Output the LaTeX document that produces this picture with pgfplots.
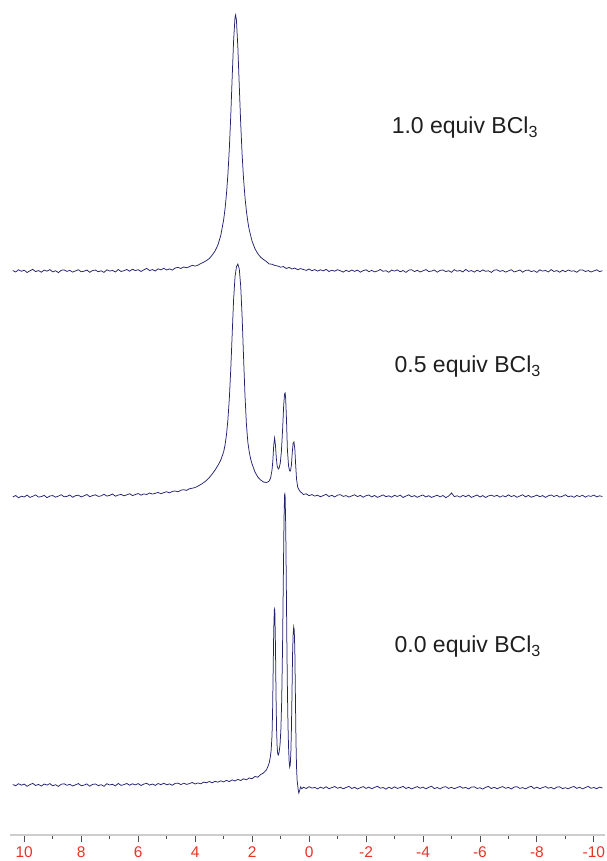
\documentclass[border=0pt]{standalone}
\usepackage{pgfplots}
\pgfplotsset{compat=1.18}
\usepackage{fontspec}
\setmainfont{Liberation Sans}
\definecolor{spec}{RGB}{34,34,112}
\definecolor{ticklab}{RGB}{232,52,36}
\definecolor{axline}{RGB}{205,205,205}
\definecolor{tickc}{RGB}{80,80,80}
\begin{document}
\begin{tikzpicture}
\useasboundingbox (-10pt,-26pt) rectangle (596pt,835pt);
\begin{axis}[
  scale only axis, width=595pt, height=835pt,
  x dir=reverse, xmin=-10.39, xmax=10.5, ymin=0, ymax=835,
  axis x line*=bottom, axis y line=none,
  x axis line style={-, draw=axline, line width=1.6pt},
  xtick={-10,-8,-6,-4,-2,0,2,4,6,8,10},
  xticklabels={-10,-8,-6,-4,-2,0,2,4,6,8,10},
  minor xtick={-9,-7,-5,-3,-1,1,3,5,7,9},
  xtick align=outside,
  major tick length=7pt, minor tick length=3.5pt,
  every tick/.style={draw=tickc, line width=0.9pt},
  tick label style={text=ticklab, font=\fontsize{15.5}{16}\selectfont, yshift=-1pt},
  clip=false,
]
% 1.0 equiv
\addplot[spec, line width=0.75pt, mark=none] coordinates {
(10.4,564.5)(10.3,563)(10.2,565.2)(10.1,563.7)(10.0,564.8)(9.9,562.5)(9.8,564.2)(9.7,565.6)(9.6,563.4)(9.5,564.4)
(9.4,562.8)(9.3,564.9)(9.2,563.8)(9.1,565.4)(9.0,563.1)(8.9,564.3)(8.8,562.4)(8.7,564.7)(8.6,565.1)(8.5,563.6)
(8.4,564.6)(8.3,562.9)(8.2,564.1)(8.1,565.3)(8.0,563.2)(7.9,563.8)(7.8,565)(7.7,562.7)(7.6,564.5)(7.5,564.9)
(7.4,563.3)(7.3,564.2)(7.2,562.6)(7.1,565.2)(7.0,563.9)(6.9,564.6)(6.8,563)(6.7,565.5)(6.6,563.5)(6.5,564.3)
(6.4,565.5)(6.3,563.8)(6.2,565.7)(6.1,564.4)(6.0,565.3)(5.9,563.5)(5.8,565.2)(5.7,566.6)(5.6,564.4)(5.5,565.4)
(5.4,564)(5.3,566.2)(5.2,565.1)(5.1,566.7)(5.0,565)(4.9,566.1)(4.8,564.9)(4.7,567)(4.6,567.6)(4.5,566.5)
(4.4,568)(4.3,567.2)(4.2,568.3)(4.1,569.7)(4.0,568.9)(3.9,569.8)(3.8,571.5)(3.7,572.8)(3.6,574.5)(3.5,576.5)
(3.4,580)(3.3,584)(3.2,590)(3.1,599.5)(3.0,615)(2.95,626)(2.9,641)(2.85,660.5)(2.8,686)(2.75,718.7)
(2.7,757)(2.65,794)(2.6,817.7)(2.58,820)(2.55,815)(2.5,787.6)(2.45,749)(2.4,711.6)(2.35,680.4)(2.3,656.2)
(2.25,637.8)(2.2,623.9)(2.15,613.3)(2.1,605.1)(2.0,593.7)(1.9,586.3)(1.8,581.3)(1.7,577.8)(1.6,575.5)(1.5,573.5)
(1.4,571)(1.3,570.8)(1.2,569.5)(1.1,569)(1.0,567.8)(0.9,568.4)(0.8,566.5)(0.7,567.6)(0.6,566)(0.5,566.9)
(0.4,565.3)(0.3,566.4)(0.2,565.5)(0.1,564.6)(0.0,566)(-0.1,564.3)(-0.2,565.4)(-0.3,563.9)(-0.4,565.2)(-0.5,564.1)
(-0.6,565.6)(-0.7,563.5)(-0.8,564.8)(-0.9,563.8)(-1.0,565.3)(-1.1,564.2)(-1.2,562.9)(-1.3,564.7)(-1.4,563.4)(-1.5,565)
(-1.6,563.6)(-1.7,564.9)(-1.8,562.8)(-1.9,564.4)(-2.0,565.2)(-2.1,563.3)(-2.2,564.6)(-2.3,563.1)(-2.4,564)(-2.5,565.5)
(-2.6,563.7)(-2.7,564.3)(-2.8,562.7)(-2.9,564.9)(-3.0,563.9)(-3.1,565.1)(-3.2,563.2)(-3.3,564.5)(-3.4,562.6)(-3.5,564.8)
(-3.6,565.3)(-3.7,563.4)(-3.8,564.7)(-3.9,563)(-4.0,564.2)(-4.1,565.4)(-4.2,563.5)(-4.3,563.9)(-4.4,565)(-4.5,562.8)
(-4.6,564.6)(-4.7,565)(-4.8,563.4)(-4.9,564.3)(-5.0,562.7)(-5.1,565.3)(-5.2,563.8)(-5.3,564.5)(-5.4,563)(-5.5,565.6)
(-5.6,563.6)(-5.7,564.4)(-5.8,562.9)(-5.9,564.8)(-6.0,563.3)(-6.1,565.1)(-6.2,563.7)(-6.3,564.2)(-6.4,562.6)(-6.5,564.8)
(-6.6,565.2)(-6.7,563.6)(-6.8,564.5)(-6.9,562.9)(-7.0,564.1)(-7.1,565.3)(-7.2,563.1)(-7.3,563.9)(-7.4,565)(-7.5,562.8)
(-7.6,564.6)(-7.7,564.9)(-7.8,563.4)(-7.9,564.3)(-8.0,562.6)(-8.1,565.2)(-8.2,563.9)(-8.3,564.5)(-8.4,563)(-8.5,565.4)
(-8.6,563.5)(-8.7,564.4)(-8.8,562.8)(-8.9,564.7)(-9.0,563.3)(-9.1,565)(-9.2,563.8)(-9.3,564.2)(-9.4,562.7)(-9.5,564.9)
(-9.6,565.1)(-9.7,563.5)(-9.8,564.4)(-9.9,563)(-10.0,564.1)(-10.1,565.2)(-10.2,563.4)(-10.3,564.3)
};
% 0.5 equiv
\addplot[spec, line width=0.75pt, mark=none] coordinates {
(10.4,338)(10.3,339.5)(10.2,337.2)(10.1,338.8)(10.0,338)(9.9,339.9)(9.8,337.6)(9.7,338.7)(9.6,340.1)(9.5,337.9)
(9.4,338.4)(9.3,339.6)(9.2,337.3)(9.1,339)(9.0,339.4)(8.9,337.8)(8.8,338.9)(8.7,340.3)(8.6,338.2)(8.5,338.6)
(8.4,340)(8.3,337.7)(8.2,339.3)(8.1,339.8)(8.0,338.1)(7.9,339.2)(7.8,340.5)(7.7,338.3)(7.6,339.4)(7.5,340.2)
(7.4,338.6)(7.3,339.1)(7.2,340.7)(7.1,338.9)(7.0,339.6)(6.9,341)(6.8,338.8)(6.7,339.9)(6.6,340.6)(6.5,339.2)
(6.4,340.1)(6.3,341.3)(6.2,339.4)(6.1,340.4)(6.0,341.5)(5.9,339.8)(5.8,341.1)(5.7,340.5)(5.6,342)(5.5,340.9)
(5.4,341.7)(5.3,342.6)(5.2,341.2)(5.1,342.4)(5.0,343.3)(4.9,342.1)(4.8,343.6)(4.7,344)(4.6,343.2)(4.5,344.8)
(4.4,345.3)(4.3,344.6)(4.2,346.2)(4.1,346.8)(4.0,347.5)(3.9,348.9)(3.8,350.5)(3.7,352.4)(3.6,354.6)(3.5,357.5)
(3.4,361)(3.3,365)(3.2,369.5)(3.1,375)(3.0,383)(2.95,390)(2.9,400)(2.85,415)(2.8,436)(2.75,465)
(2.7,500)(2.65,535)(2.6,558)(2.55,568)(2.5,571)(2.45,566)(2.4,549)(2.35,518)(2.3,478)(2.25,440)
(2.2,411)(2.15,393)(2.1,383)(2.05,376)(2.0,371)(1.9,363)(1.8,358)(1.7,355)(1.6,353)(1.5,352.5)
(1.45,353)(1.4,354)(1.35,357)(1.3,365)(1.27,375)(1.24,390)(1.21,397)(1.18,390)(1.15,377)(1.12,369)
(1.08,366)(1.05,367)(1.01,372)(0.97,384)(0.93,405)(0.89,430)(0.86,441)(0.84,442)(0.82,436)(0.79,413)
(0.76,385)(0.72,369)(0.68,364)(0.65,364)(0.62,370)(0.59,382)(0.56,392)(0.53,393)(0.50,386)(0.47,370)
(0.44,356)(0.40,348)(0.35,345)(0.3,343)(0.25,342)(0.2,340.5)(0.1,341.2)(0.0,339.3)(-0.1,340.4)(-0.2,338.9)
(-0.3,339.8)(-0.4,338.2)(-0.5,339.5)(-0.6,340.6)(-0.7,338.5)(-0.8,339.7)(-0.9,338)(-1.0,339.9)(-1.1,340.3)(-1.2,338.6)
(-1.3,339.4)(-1.4,337.9)(-1.5,339.1)(-1.6,340.2)(-1.7,338.4)(-1.8,339.6)(-1.9,337.7)(-2.0,339.3)(-2.1,340)(-2.2,338.1)
(-2.3,339.5)(-2.4,337.6)(-2.5,338.8)(-2.6,340.1)(-2.7,338.3)(-2.8,339.2)(-2.9,337.8)(-3.0,339.7)(-3.1,338.5)(-3.2,339.9)
(-3.3,337.5)(-3.4,338.9)(-3.5,340.2)(-3.6,338.2)(-3.7,339.4)(-3.8,337.7)(-3.9,339)(-4.0,340)(-4.1,338)(-4.2,339.3)
(-4.3,337.6)(-4.4,338.7)(-4.5,339.8)(-4.6,338.1)(-4.7,339.5)(-4.8,337.4)(-4.9,338.9)(-5.0,342)(-5.1,338.4)(-5.2,339.2)
(-5.3,337.8)(-5.4,339.6)(-5.5,338.3)(-5.6,339.9)(-5.7,337.6)(-5.8,338.8)(-5.9,340)(-6.0,338)(-6.1,339.4)(-6.2,337.5)
(-6.3,339.1)(-6.4,339.8)(-6.5,338.6)(-6.6,339.7)(-6.7,337.9)(-6.8,339.3)(-6.9,338.2)(-7.0,340.1)(-7.1,338.4)(-7.2,339.5)
(-7.3,337.7)(-7.4,339)(-7.5,340.2)(-7.6,338.1)(-7.7,339.6)(-7.8,337.8)(-7.9,338.7)(-8.0,339.9)(-8.1,338.3)(-8.2,339.4)
(-8.3,337.6)(-8.4,339.2)(-8.5,340)(-8.6,338.5)(-8.7,339.7)(-8.8,337.9)(-8.9,338.8)(-9.0,340.3)(-9.1,338.2)(-9.2,339.1)
(-9.3,337.7)(-9.4,339.5)(-9.5,338.4)(-9.6,339.8)(-9.7,337.8)(-9.8,339.3)(-9.9,338.6)(-10.0,340)(-10.1,338.1)(-10.2,339.2)(-10.3,338.5)
};
% 0.0 equiv
\addplot[spec, line width=0.75pt, mark=none] coordinates {
(10.4,50.5)(10.3,49.2)(10.2,51.3)(10.1,49.8)(10.0,50.9)(9.9,48.7)(9.8,50.4)(9.7,51.6)(9.6,49.5)(9.5,50.6)
(9.4,48.9)(9.3,51)(9.2,49.9)(9.1,51.4)(9.0,49.2)(8.9,50.3)(8.8,48.6)(8.7,50.8)(8.6,51.2)(8.5,49.7)
(8.4,50.7)(8.3,49)(8.2,50.2)(8.1,51.4)(8.0,49.3)(7.9,49.9)(7.8,51.1)(7.7,48.8)(7.6,50.6)(7.5,51)
(7.4,49.4)(7.3,50.3)(7.2,48.7)(7.1,51.3)(7.0,50)(6.9,50.7)(6.8,49.1)(6.7,51.6)(6.6,49.6)(6.5,50.4)
(6.4,51.5)(6.3,49.8)(6.2,51.2)(6.1,50.1)(6.0,51.4)(5.9,49.5)(5.8,50.9)(5.7,51.7)(5.6,49.9)(5.5,51)
(5.4,49.6)(5.3,51.5)(5.2,50.3)(5.1,51.8)(5.0,50.2)(4.9,51.1)(4.8,49.7)(4.7,51.6)(4.6,51.9)(4.5,50.4)
(4.4,51.8)(4.3,50.6)(4.2,51.4)(4.1,52.5)(4.0,51)(3.9,52.1)(3.8,51.2)(3.7,52.9)(3.6,52.3)(3.5,53.5)
(3.4,52.2)(3.3,53.7)(3.2,52.8)(3.1,54.2)(3.0,53.1)(2.9,54.6)(2.8,53.4)(2.7,55.1)(2.6,54)(2.5,55.6)
(2.4,54.5)(2.3,56.2)(2.2,55.2)(2.1,57)(2.0,56.3)(1.9,58.5)(1.8,57.8)(1.7,60.5)(1.6,62)(1.5,65)
(1.45,68)(1.40,72)(1.36,78)(1.33,85)(1.30,100)(1.28,125)(1.26,165)(1.24,205)(1.22,225)(1.21,226)
(1.20,222)(1.18,190)(1.16,140)(1.14,105)(1.12,88)(1.10,81)(1.08,80)(1.05,83)(1.02,90)(0.99,105)
(0.96,135)(0.93,190)(0.90,265)(0.88,315)(0.86,340)(0.85,341)(0.84,338)(0.82,310)(0.80,255)(0.78,195)
(0.76,145)(0.74,110)(0.72,88)(0.70,74)(0.68,68)(0.66,70)(0.64,82)(0.62,105)(0.60,140)(0.58,180)
(0.56,200)(0.54,208)(0.52,205)(0.50,185)(0.48,140)(0.46,95)(0.44,68)(0.42,55)(0.40,50)(0.38,45)
(0.36,42)(0.33,44.5)(0.3,48)(0.25,46.2)(0.2,47.8)(0.1,46.5)(0.0,48.3)(-0.1,46.9)(-0.2,47.6)(-0.3,46.1)
(-0.4,47.9)(-0.5,46.6)(-0.6,48.2)(-0.7,46.3)(-0.8,47.4)(-0.9,48.5)(-1.0,46.7)(-1.1,47.8)(-1.2,46.2)(-1.3,47.5)
(-1.4,48.6)(-1.5,46.5)(-1.6,47.7)(-1.7,46)(-1.8,47.3)(-1.9,48.4)(-2.0,46.6)(-2.1,47.9)(-2.2,46.3)(-2.3,47.6)
(-2.4,48.7)(-2.5,46.8)(-2.6,47.5)(-2.7,45.9)(-2.8,47.8)(-2.9,46.4)(-3.0,48.2)(-3.1,46.6)(-3.2,47.4)(-3.3,48.6)
(-3.4,46.5)(-3.5,47.7)(-3.6,46.1)(-3.7,47.3)(-3.8,48.4)(-3.9,46.7)(-4.0,47.9)(-4.1,46.2)(-4.2,47.6)(-4.3,48.8)
(-4.4,46.4)(-4.5,47.5)(-4.6,46)(-4.7,47.8)(-4.8,48.3)(-4.9,46.6)(-5.0,47.7)(-5.1,46.3)(-5.2,47.4)(-5.3,48.5)
(-5.4,46.8)(-5.5,47.6)(-5.6,46.1)(-5.7,47.9)(-5.8,48.2)(-5.9,46.5)(-6.0,47.3)(-6.1,45.9)(-6.2,47.7)(-6.3,48.6)
(-6.4,46.4)(-6.5,47.8)(-6.6,46.2)(-6.7,47.5)(-6.8,48.4)(-6.9,46.7)(-7.0,47.6)(-7.1,46)(-7.2,47.9)(-7.3,48.3)
(-7.4,46.6)(-7.5,47.4)(-7.6,46.1)(-7.7,47.7)(-7.8,48.7)(-7.9,46.5)(-8.0,47.8)(-8.1,46.3)(-8.2,47.5)(-8.3,48.4)
(-8.4,46.8)(-8.5,47.6)(-8.6,46)(-8.7,47.9)(-8.8,48.2)(-8.9,46.4)(-9.0,47.3)(-9.1,46.2)(-9.2,47.7)(-9.3,48.5)
(-9.4,46.6)(-9.5,47.8)(-9.6,46.1)(-9.7,47.4)(-9.8,48.6)(-9.9,46.7)(-10.0,47.5)(-10.1,46.3)(-10.2,47.9)(-10.3,47)
};
\node[anchor=west, font=\fontsize{23}{25}\selectfont, text=black!88] at (axis cs:-2.78,707) {1.0 equiv BCl\textsubscript{3}};
\node[anchor=west, font=\fontsize{23}{25}\selectfont, text=black!88] at (axis cs:-2.88,468) {0.5 equiv BCl\textsubscript{3}};
\node[anchor=west, font=\fontsize{23}{25}\selectfont, text=black!88] at (axis cs:-2.88,188) {0.0 equiv BCl\textsubscript{3}};
\end{axis}
\end{tikzpicture}
\end{document}
